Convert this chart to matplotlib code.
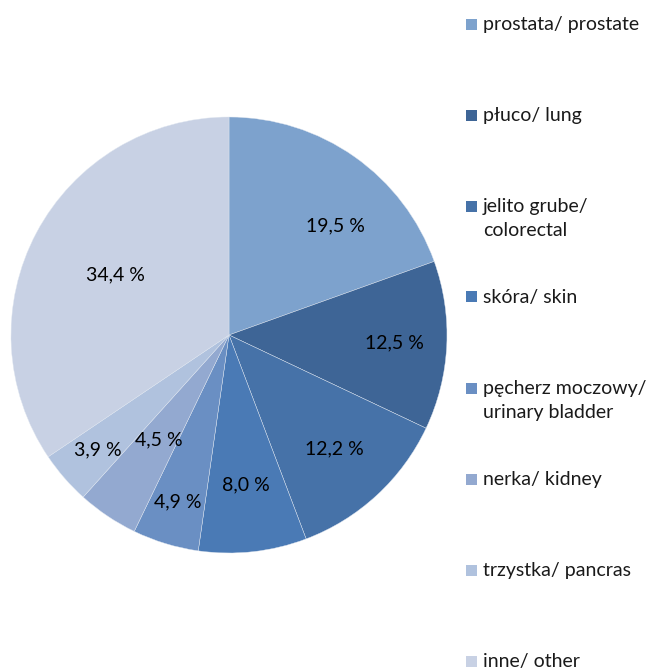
import matplotlib.pyplot as plt
from matplotlib.patches import Rectangle
import numpy as np

plt.rcParams['font.family'] = ['Lato', 'DejaVu Sans']

labels = ["prostata/ prostate", "płuco/ lung", "jelito grube/\ncolorectal", "skóra/ skin",
          "pęcherz moczowy/\nurinary bladder", "nerka/ kidney", "trzystka/ pancras", "inne/ other"]
values = [19.5, 12.5, 12.2, 8.0, 4.9, 4.5, 3.9, 34.4]
colors = ["#7DA2CD", "#3E6596", "#4672A8", "#4A7AB5", "#6A8FC3", "#93A9D0", "#B0C2DE", "#C8D1E4"]

# odleglosc etykiety od srodka (jak w Excelu)
label_r = [0.70, 0.76, 0.71, 0.69, 0.80, 0.58, 0.80, 0.59]
label_shift = [-9, 0, 0, 0, 0, 0, 0, 0]  # obrot w stopniach

W, H = 649, 669
fig = plt.figure(figsize=(W / 100, H / 100), dpi=100)

cx, cy, r = 229, 335, 218
ax = fig.add_axes([(cx - r) / W, (H - cy - r) / H, 2 * r / W, 2 * r / H])

wedges, _ = ax.pie(values, colors=colors, startangle=90, counterclock=False,
                   radius=1, wedgeprops=dict(edgecolor="#dfe6f0", linewidth=0.3))
ax.set_xlim(-1, 1)
ax.set_ylim(-1, 1)
ax.set_aspect("equal")
ax.axis("off")

for w, v, rr, sh in zip(wedges, values, label_r, label_shift):
    ang = np.deg2rad((w.theta1 + w.theta2) / 2 + sh)
    ax.text(rr * np.cos(ang), rr * np.sin(ang), ("%.1f %%" % v).replace(".", ","),
            ha="center", va="center", fontsize=14, color="black")

# legenda po prawej
for i, (lab, c) in enumerate(zip(labels, colors)):
    ytop = 24 + i * 91
    fig.add_artist(Rectangle((466 / W, 1 - (ytop + 5.5) / H), 11 / W, 11 / H,
                             transform=fig.transFigure, facecolor=c, edgecolor="none"))
    for k, line in enumerate(lab.split("\n")):
        fig.text(483 / W, 1 - (ytop + 6 + 24 * k) / H, line, ha="left", va="baseline",
                 fontsize=14, color="#1a1a1a")

fig.savefig("out.png", dpi=100)
